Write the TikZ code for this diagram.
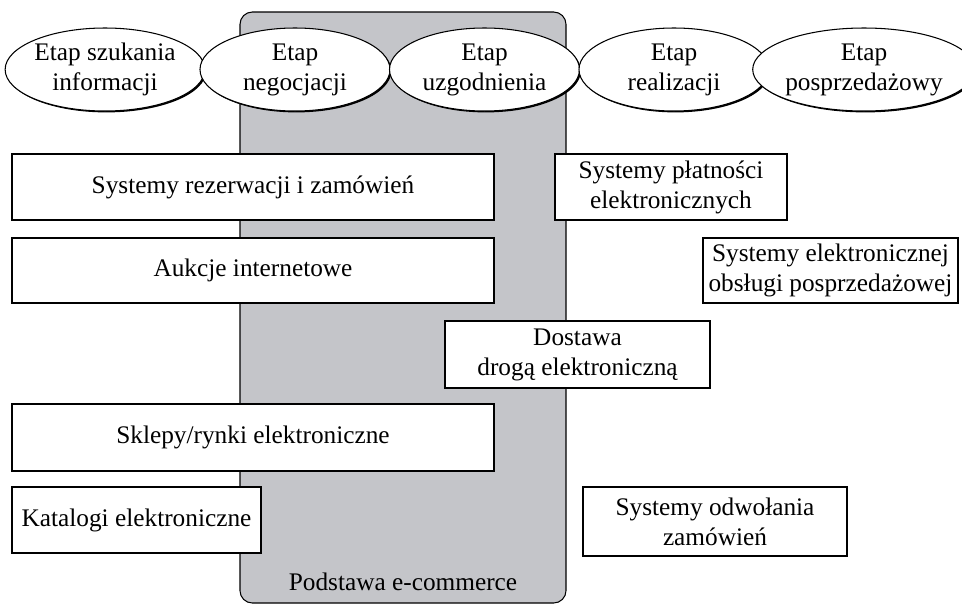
\documentclass[tikz,border=0pt]{standalone}
\usepackage{fontspec}
\setmainfont{Liberation Serif}
\usetikzlibrary{shapes.geometric,shadows}
\definecolor{podstawa}{RGB}{196,197,201}

\begin{document}
\begin{tikzpicture}[scale=0.2]
\tikzstyle{every node}+=[inner sep=0pt, align=center, font=\fontsize{14.4}{17.1}\selectfont]
\tikzstyle{cien}=[drop shadow={shadow xshift=0.8pt, shadow yshift=-0.8pt, fill=black, opacity=1}]
\tikzstyle{etap}=[ellipse, draw=black, fill=white, line width=0.6pt, cien, minimum width=3.8cm, minimum height=1.66cm]
\tikzstyle{system}=[rectangle, draw=black, fill=white, line width=0.6pt, cien]
\useasboundingbox (0,0) rectangle (96.2,-60.5);
% podstawa e-commerce
\draw [black, fill=podstawa, rounded corners=7pt, line width=0.6pt] (24,-1.2) rectangle (56.6,-60.3);
\node (podstawa) at (40.3,-59) [anchor=base] {Podstawa e-commerce};
% etapy
\node [etap] (szukanie) at (10.5,-6.95) {Etap szukania\\informacji};
\node [etap] (negocjacje) at (29.5,-6.95) {Etap\\negocjacji};
\node [etap] (uzgodnienie) at (48.45,-6.95) {Etap\\uzgodnienia};
\node [etap] (realizacja) at (67.4,-6.95) {Etap\\realizacji};
\node [etap] (posprzedaz) at (86.4,-6.95) {Etap\\posprzedażowy};
% systemy
\node [system, minimum width=9.64cm, minimum height=1.32cm] (rezerwacje) at (25.3,-18.7) {Systemy rezerwacji i zamówień};
\node [system, minimum width=4.64cm, minimum height=1.32cm] (platnosci) at (67.1,-18.7) {Systemy płatności\\elektronicznych};
\node [system, minimum width=9.64cm, minimum height=1.3cm] (aukcje) at (25.3,-27.05) {Aukcje internetowe};
\node [system, minimum width=5.1cm, minimum height=1.3cm] (obsluga) at (83.05,-27.05) {Systemy elektronicznej\\obsługi posprzedażowej};
\node [system, minimum width=5.3cm, minimum height=1.34cm] (dostawa) at (57.75,-35.45) {Dostawa\\drogą elektroniczną};
\node [system, minimum width=9.64cm, minimum height=1.34cm] (sklepy) at (25.3,-43.75) {Sklepy/rynki elektroniczne};
\node [system, minimum width=4.98cm, minimum height=1.32cm] (katalogi) at (13.65,-52) {Katalogi elektroniczne};
\node [system, minimum width=5.28cm, minimum height=1.38cm] (odwolania) at (71.5,-52.15) {Systemy odwołania\\zamówień};
\end{tikzpicture}
\end{document}
